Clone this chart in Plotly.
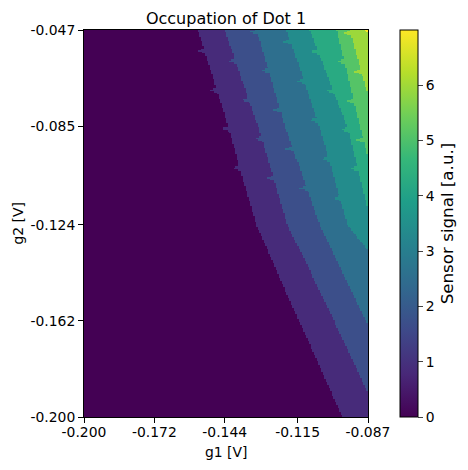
import numpy as np
import plotly.graph_objects as go

# gate ranges and tick labels
g1_range = [-0.200, -0.087]
g2_range = [-0.200, -0.047]
g1_ticks = [-0.200, -0.172, -0.144, -0.115, -0.087]
g2_ticks = [-0.200, -0.162, -0.124, -0.085, -0.047]
cbar_ticks = [0, 1, 2, 3, 4, 5, 6]

# dot 1 transition lines, g1 position [V] at given g2 [V]
line1_g2 = [-0.047, -0.0857, -0.1016, -0.1241, -0.1624, -0.200]
line1_g1 = [-0.1548, -0.1425, -0.1381, -0.1314, -0.1144, -0.0973]
line2_g2 = [-0.047, -0.0857, -0.1241, -0.1624, -0.200]
line2_g1 = [-0.1441, -0.1306, -0.1191, -0.1005, -0.0826]
line3_g2 = [-0.047, -0.0857, -0.1241, -0.1624, -0.200]
line3_g1 = [-0.1314, -0.1199, -0.1064, -0.0878, -0.0700]
line4_g2 = [-0.047, -0.0857, -0.1241, -0.1348, -0.200]
line4_g1 = [-0.1195, -0.1064, -0.0953, -0.0866, -0.0588]
line5_g2 = [-0.047, -0.0857, -0.1201, -0.200]
line5_g1 = [-0.1104, -0.0953, -0.0866, -0.0505]
line6_g2 = [-0.047, -0.1004, -0.200]
line6_g1 = [-0.0997, -0.0866, -0.0430]
line7_g2 = [-0.047, -0.0747, -0.200]
line7_g1 = [-0.0945, -0.0866, -0.0350]
line8_g2 = [-0.047, -0.0494, -0.200]
line8_g1 = [-0.0882, -0.0866, -0.0250]

# g2 positions where dot 2 transitions kink each line
jags1 = [-0.0553, -0.0707, -0.0861, -0.1016]
jags2 = [-0.0593, -0.0747, -0.0901, -0.1055]
jags3 = [-0.0478, -0.0632, -0.0786, -0.0940, -0.1095]
jags4 = [-0.0517, -0.0672, -0.0826, -0.0980, -0.1134]
jags5 = [-0.0557, -0.0711, -0.0865, -0.1019]
jags6 = [-0.0596, -0.0751, -0.0905]
jags7 = [-0.0482, -0.0636]
jags8 = []

# sensor signal for each occupation
levels = [0.0, 0.85, 1.7, 2.55, 3.4, 4.25, 5.1, 5.95, 7.0]

lines = [
    (line1_g2, line1_g1, jags1), (line2_g2, line2_g1, jags2),
    (line3_g2, line3_g1, jags3), (line4_g2, line4_g1, jags4),
    (line5_g2, line5_g1, jags5), (line6_g2, line6_g1, jags6),
    (line7_g2, line7_g1, jags7), (line8_g2, line8_g1, jags8),
]
jag_depth = 0.0030
jag_half = 0.0011

g1 = np.linspace(g1_range[0], g1_range[1], 190)
g2 = np.linspace(g2_range[0], g2_range[1], 258)
occ = np.zeros((len(g2), len(g1)), dtype=int)
for lg2, lg1, jags in lines:
    edge = np.interp(g2, lg2[::-1], lg1[::-1])
    for j in jags:
        edge -= jag_depth * np.clip(1 - np.abs(g2 - j) / jag_half, 0, None)
    occ += (g1[None, :] > edge[:, None]).astype(int)
z = np.array(levels)[occ]

fig = go.Figure()
fig.add_trace(go.Heatmap(
    x=g1, y=g2, z=z, colorscale="Viridis", zmin=0, zmax=7.0, zsmooth=False,
    colorbar=dict(
        x=1.109, xanchor="left", y=0.5, yanchor="middle", len=1, lenmode="fraction",
        thickness=18, xpad=0, ypad=0, outlinewidth=1, outlinecolor="black",
        ticks="outside", ticklen=5, tickvals=cbar_ticks,
        tickfont=dict(size=13.9, color="black"),
        title=dict(text="Sensor signal [a.u.]", side="right", font=dict(size=16.7, color="black")),
    ),
))

axis_style = dict(showline=True, mirror=True, linecolor="black", linewidth=1,
                  ticks="outside", ticklen=5, tickcolor="black", showgrid=False,
                  zeroline=False, automargin=False, tickfont=dict(size=13.9, color="black"))
fig.update_xaxes(range=g1_range, tickvals=g1_ticks, ticktext=["%.3f" % v for v in g1_ticks],
                 ticklabelstandoff=-3, **axis_style)
fig.update_yaxes(range=g2_range, tickvals=g2_ticks, ticktext=["%.3f" % v for v in g2_ticks],
                 **axis_style)

# axis titles
fig.add_annotation(text="g1 [V]", x=0.5, y=0, xref="paper", yref="paper",
                   xanchor="center", yanchor="middle", yshift=-35, showarrow=False,
                   font=dict(size=13.9, color="black"))
fig.add_annotation(text="g2 [V]", x=0, y=0.5, xref="paper", yref="paper",
                   xanchor="center", yanchor="middle", xshift=-67, textangle=-90,
                   showarrow=False, font=dict(size=13.9, color="black"))

# page body adds an 8px offset, so the figure is drawn 8px smaller
fig.update_layout(
    width=460, height=454,
    margin=dict(l=76, r=99, t=22, b=45),
    paper_bgcolor="white", plot_bgcolor="white",
    font=dict(family="DejaVu Sans", color="black"),
    title=dict(text="Occupation of Dot 1", x=0.5, xref="paper", xanchor="center",
               y=1 - 10 / 454, yref="container", yanchor="middle", font=dict(size=16)),
)
fig.write_html("out.html")
